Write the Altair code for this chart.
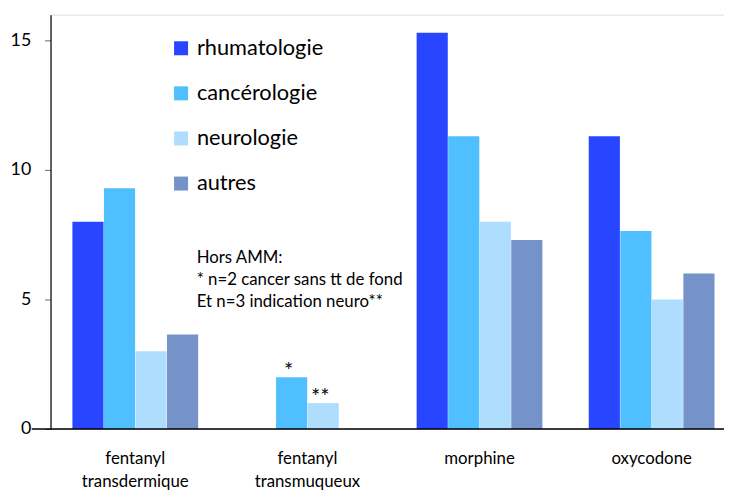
import altair as alt
import pandas as pd

categories = ["fentanyl transdermique", "fentanyl transmuqueux", "morphine", "oxycodone"]
series = ["rhumatologie", "cancérologie", "neurologie", "autres"]
colors = ["#2845FF", "#4FBFFF", "#AEDDFE", "#7593C8"]
values = {
    "rhumatologie": [8.0, 0.0, 15.3, 11.3],
    "cancérologie": [9.3, 2.0, 11.3, 7.65],
    "neurologie": [3.0, 1.0, 8.0, 5.0],
    "autres": [3.65, 0.0, 7.3, 6.0],
}
marks = {
    ("fentanyl transmuqueux", "cancérologie"): "*",
    ("fentanyl transmuqueux", "neurologie"): "**",
}
note_lines = ["Hors AMM:", "* n=2 cancer sans tt de fond", "Et n=3 indication neuro**"]

rows = []
for s in series:
    for c, v in zip(categories, values[s]):
        rows.append({"cat": c, "serie": s, "val": v, "mark": marks.get((c, s), "")})
df = pd.DataFrame(rows)

FONT = "Lato"

x = alt.X("cat:N", sort=categories, title=None,
          scale=alt.Scale(paddingInner=0.267, paddingOuter=0.09, align=0.7),
          axis=alt.Axis(labelExpr="split(datum.label, ' ')", labelAngle=0, ticks=False,
                        domain=False, labelFontSize=17, labelFont=FONT, labelColor="#000",
                        labelPadding=30, labelLineHeight=23, labelBaseline="middle"))
y = alt.Y("val:Q", title=None,
          scale=alt.Scale(domain=[0, 16], nice=False),
          axis=alt.Axis(values=[0, 5, 10, 15], grid=False, domainColor="#000",
                        domainWidth=1.2, tickColor="#666", tickSize=6, labelFontSize=18,
                        labelFont=FONT, labelColor="#000", labelPadding=14))

base = alt.Chart(df)
bars = base.mark_bar(size=31.5).encode(
    x=x,
    xOffset=alt.XOffset("serie:N", sort=series, scale=alt.Scale(paddingInner=0, paddingOuter=0)),
    y=y,
    color=alt.Color("serie:N", sort=series,
                    scale=alt.Scale(domain=series, range=colors),
                    legend=alt.Legend(orient="none", legendX=121, legendY=23, title=None,
                                      symbolType="square", symbolSize=200, symbolStrokeWidth=0,
                                      labelFontSize=22, labelFont=FONT, labelColor="#000",
                                      rowPadding=23.6, padding=0, labelOffset=5)),
)

stars = base.transform_filter("datum.mark != ''").mark_text(
    baseline="bottom", dy=6, fontSize=22, font=FONT, color="#000", dx=-3
).encode(
    x=alt.X("cat:N", sort=categories),
    xOffset=alt.XOffset("serie:N", sort=series),
    y="val:Q",
    text="mark:N",
)

note_df = pd.DataFrame({"cat": ["fentanyl transmuqueux"], "yv": [6.6], "txt": [note_lines]})
note = alt.Chart(note_df).mark_text(
    align="left", baseline="middle", dx=-112, fontSize=17, font=FONT, color="#000", lineHeight=22
).encode(x=alt.X("cat:N", sort=categories), y="yv:Q", text="txt")

xbase = alt.Chart(pd.DataFrame({"v": [0]})).mark_rule(color="#000", strokeWidth=1.5).encode(
    y="v:Q", x=alt.value(-19), x2=alt.value(681))

chart = alt.layer(bars, stars, note, xbase).properties(
    width=681, height=419,
    autosize=alt.AutoSizeParams(type="none"),
    padding={"left": 43, "top": 4, "right": 0, "bottom": 62},
).configure_view(stroke=None).configure(font=FONT)

chart.save("out.html", embed_options={"renderer": "svg", "actions": False})
